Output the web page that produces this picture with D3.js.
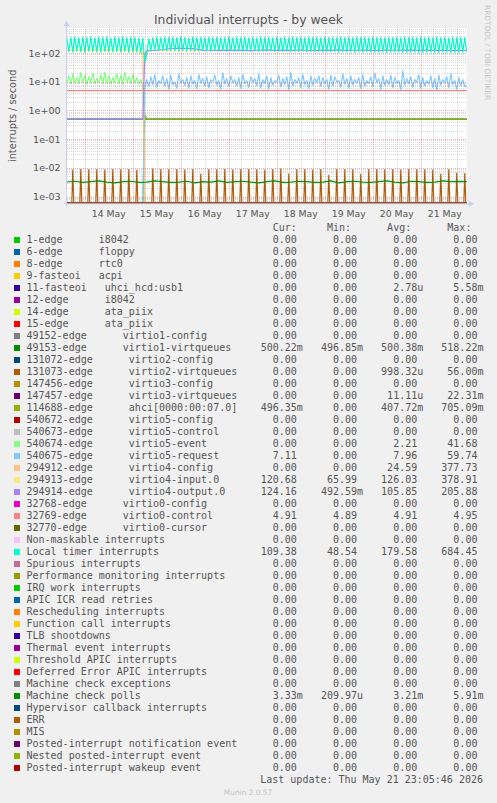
<!DOCTYPE html>
<html><head><meta charset="utf-8">
<script src="https://cdn.jsdelivr.net/npm/d3@7"></script>
<style>
html,body{margin:0;padding:0;background:#f0f0f0;}
svg{display:block;}
text{white-space:pre;}
</style></head><body>
<svg id="c" width="497" height="803"></svg>
<script>
// ================= DATA =================
const title = "Individual interrupts - by week";
const yLabel = "interrupts / second";
const watermark = "RRDTOOL / TOBI OETIKER";
const footer = "Munin 2.0.57";
const lastUpdate = "Last update: Thu May 21 23:05:46 2026";
const endTime = Date.UTC(2026, 4, 21, 23, 5, 46);
const rangeSeconds = 720000;
const sampleStart = Date.UTC(2026, 4, 13, 15, 0, 0); // hourly sample grid, index 0..200

const yTickValues = [1e-3, 1e-2, 1e-1, 1e0, 1e1, 1e2];
const yTickLabels = ["1e-03", "1e-02", "1e-01", "1e+00", "1e+01", "1e+02"];
const dayLabels = ["14 May", "15 May", "16 May", "17 May", "18 May", "19 May", "20 May", "21 May"];

const names = [
  "1-edge      i8042", "6-edge      floppy", "8-edge      rtc0", "9-fasteoi   acpi",
  "11-fasteoi   uhci_hcd:usb1", "12-edge      i8042", "14-edge      ata_piix", "15-edge      ata_piix",
  "49152-edge      virtio1-config", "49153-edge      virtio1-virtqueues",
  "131072-edge      virtio2-config", "131073-edge      virtio2-virtqueues",
  "147456-edge      virtio3-config", "147457-edge      virtio3-virtqueues",
  "114688-edge      ahci[0000:00:07.0]", "540672-edge      virtio5-config",
  "540673-edge      virtio5-control", "540674-edge      virtio5-event",
  "540675-edge      virtio5-request", "294912-edge      virtio4-config",
  "294913-edge      virtio4-input.0", "294914-edge      virtio4-output.0",
  "32768-edge      virtio0-config", "32769-edge      virtio0-control", "32770-edge      virtio0-cursor",
  "Non-maskable interrupts", "Local timer interrupts", "Spurious interrupts",
  "Performance monitoring interrupts", "IRQ work interrupts", "APIC ICR read retries",
  "Rescheduling interrupts", "Function call interrupts", "TLB shootdowns",
  "Thermal event interrupts", "Threshold APIC interrupts", "Deferred Error APIC interrupts",
  "Machine check exceptions", "Machine check polls", "Hypervisor callback interrupts",
  "ERR", "MIS", "Posted-interrupt notification event", "Nested posted-interrupt event",
  "Posted-interrupt wakeup event"
];
const colors = [
  "#00CC00", "#0066B3", "#FF8000", "#FFCC00", "#330099", "#990099", "#CCFF00", "#FF0000",
  "#808080", "#008F00", "#00487D", "#B35A00", "#B38F00", "#6B006B", "#8FB300", "#B30000",
  "#BEBEBE", "#80FF80", "#80C9FF", "#FFC080", "#FFE680", "#AA80FF", "#EE00CC", "#FF8080",
  "#666600", "#FFBFFF", "#00FFCC", "#CC6699", "#999900", "#00CC00", "#0066B3", "#FF8000",
  "#FFCC00", "#330099", "#990099", "#CCFF00", "#FF0000", "#808080", "#008F00", "#00487D",
  "#B35A00", "#B38F00", "#6B006B", "#8FB300", "#B30000"
];
const curVals = ["0.00","0.00","0.00","0.00","0.00","0.00","0.00","0.00","0.00","500.22m",
  "0.00","0.00","0.00","0.00","496.35m","0.00","0.00","0.00","7.11","0.00",
  "120.68","124.16","0.00","4.91","0.00","0.00","109.38","0.00","0.00","0.00",
  "0.00","0.00","0.00","0.00","0.00","0.00","0.00","0.00","3.33m","0.00",
  "0.00","0.00","0.00","0.00","0.00"];
const minVals = ["0.00","0.00","0.00","0.00","0.00","0.00","0.00","0.00","0.00","496.85m",
  "0.00","0.00","0.00","0.00","0.00","0.00","0.00","0.00","0.00","0.00",
  "65.99","492.59m","0.00","4.89","0.00","0.00","48.54","0.00","0.00","0.00",
  "0.00","0.00","0.00","0.00","0.00","0.00","0.00","0.00","209.97u","0.00",
  "0.00","0.00","0.00","0.00","0.00"];
const avgVals = ["0.00","0.00","0.00","0.00","2.78u","0.00","0.00","0.00","0.00","500.38m",
  "0.00","998.32u","0.00","11.11u","407.72m","0.00","0.00","2.21","7.96","24.59",
  "126.03","105.85","0.00","4.91","0.00","0.00","179.58","0.00","0.00","0.00",
  "0.00","0.00","0.00","0.00","0.00","0.00","0.00","0.00","3.21m","0.00",
  "0.00","0.00","0.00","0.00","0.00"];
const maxVals = ["0.00","0.00","0.00","0.00","5.58m","0.00","0.00","0.00","0.00","518.22m",
  "0.00","56.00m","0.00","22.31m","705.09m","0.00","0.00","41.68","59.74","377.73",
  "378.91","205.88","0.00","4.95","0.00","0.00","684.45","0.00","0.00","0.00",
  "0.00","0.00","0.00","0.00","0.00","0.00","0.00","0.00","5.91m","0.00",
  "0.00","0.00","0.00","0.00","0.00"];

// ---- plotted series (hour indexes on the sample grid) ----
const timerBefore = [345,112,350,108,372,116,340,110,366,105,352,114,381,109,343,111,361,107,356,115,
  374,110,337,108,369,113,352,109,378,112,346,106,363,111,359,108,342,104,330];
const timerReboot = [48.54];
const timerAfter = [95,318,118,352,121,364,119,348,122,371, 117,355,124,362,120,349,118,376,123,358,
  116,344,121,367,119,353,117,361,122,347, 118,372,115,356,120,365,117,350,121,359,
  114,373,118,346,116,362,120,354,113,368, 117,351,115,360,119,345,112,370,116,357,
  114,363,118,349,111,366,115,352,113,361, 117,347,110,371,114,355,112,364,116,350,
  109,368,113,353,111,362,115,346,108,369, 112,357,110,360,114,351,107,372,111,354,
  109,365,113,348,106,367,110,356,108,361, 112,352,105,370,109,355,107,363,111,349,
  104,366,108,358,106,360,110,350,103,369, 107,354,105,364,109,347,102,371,106,356,
  104,362,108,351,103,368,107,353,105,359, 109,348,104,365,106,355,103,361,108,352, 109.38];
const eventBefore = [9,16,8.5,19,9.2,14,8.8,21,9.5,17, 8.3,15,9.1,20,8.7,13,9.4,18,8.6,22,
  9.0,16,8.4,14,9.3,19,8.9,17,8.2,21, 9.6,15,8.8,18,9.1,14,8.5,12,7.5];
const requestAfter = [6,
  12,7,15,8,18,6.5,11,9,16,7,13,5.5,17,8,10,6,19,9,12,7.5,
  14,6,16,8.5,11,5.8,18,9,13,7,15,6.2,12,10,17,7.8,11,5.6,20,8.4,
  13,6.8,16,9.2,12,7.1,14,5.9,18,8.7,11,6.4,15,9.6,13,7.3,19,6.1,12,8.9,
  16,5.7,14,7.7,11,9.8,17,6.6,13,8.2,15,5.4,21,7.4,12,9.1,14,6.3,18,8.0,
  11,5.9,16,7.6,13,9.4,16,6.9,14,8.6,12,5.5,17,7.2,15,9.9,11,6.5,19,8.3,
  13,6.0,16,7.9,12,9.3,14,5.8,18,7.0,11,8.8,15,6.7,20,9.5,13,5.6,16,7.5,
  12,8.1,17,6.2,14,9.0,11,5.3,24,7.8,13,8.5,15,6.4,12,9.7,18,5.9,14,7.1,
  11,8.4,16,6.3,13,5.2,17,7.7,12,9.2,15,6.1,19,8.0,11,5.5,14,7.4,12,6.8,7.11];
const configBefore = [128,131,126,129,133,127,125,130,129,126, 128,132,127,125,129,131,128,126,127,130,
  133,128,126,129,127,131,128,125,130,127, 129,132,126,128,130,127,125,129,122];
const inputBefore = [124,126,123,127,125,122,126,124,127,123];
const inputAfter = [118,125,127,124,126,128,123,125,127,124, 126,129,125,123,127,126,124,128,125,127,
  123,126,124,128,126,125,127,123,126,124, 128,125,127,124,126,123,125,127,124,122, 120.68];
const outputBefore = [0.500, 0.500];
const outputAfter = [122,126,134,145,150,147,140,128,126,124, 128,125,127,123,126,129,124,127,125,128,
  126,123,127,125,129,124,126,128,125,123, 127,126,124,128,125,127,124,126,123,125, 124.16];
const ahciAfter = [0.500,0.500,0.500,0.500,0.500,0.500,0.500,0.500,0.496];
const virtio1Vals = [0.500,0.500,0.500,0.500,0.500,0.500,0.500,0.500,0.500,0.500,0.500];
const controlVals = [4.91,4.90,4.91,4.92,4.91,4.90,4.91,4.91,4.92,4.91,4.91];
const mcPolls = [0.0032,0.0034,0.0031,0.0033,0.0035,0.0032,0.0030,0.0033,0.0034,0.0031,
  0.0032,0.0035,0.0033,0.0031,0.0032,0.0034,0.0030,0.0033,0.0032,0.0035,
  0.0031,0.0033,0.0034,0.0032,0.0030,0.0033,0.0035,0.0031,0.0032,0.0034,
  0.0033,0.0031,0.0032,0.0035,0.0030,0.0033,0.0034,0.0032,0.0031,0.0033,
  0.0035,0.0032,0.0030,0.0034,0.0033,0.0031,0.0032,0.0035,0.0033,0.0034, 0.00333];
// virtio2-virtqueues: zero except short bursts (hour index on the grid, value)
const virtio2SpikeHours = [3,7,11,15,19,23,27,31,35, 43,47,51,55,59,63,67,71,75,79,83,87,91,95,99,
  103,107,111,115,119,123,127,131,135,139,143,147,151,155,159,163,167,171,175,179,183,187,191,195,199];
const virtio2SpikeValues = [.0085,.0088,.0086,.0087,.0085,.0088,.0086,.0087,.0084,
  .0092,.0088,.0086,.0087,.0085,.0088,.0060,.0087,.0086,.0088,.0085,.0087,.0089,.0086,.0084,
  .0087,.0092,.0062,.0086,.0088,.0085,.0087,.0055,.0088,.0086,.0087,.0060,.0088,.0089,.0086,
  .0087,.0085,.0088,.0086,.0087,.0085,.0060,.0087,.0065,.0064];
const zeroSeries = [0, 0];

// segments: {from: hour index, step: hours, values}
const seriesSegments = {
  9:  [{from: 0, step: 20, values: virtio1Vals}],
  14: [{from: 0, step: 38, values: zeroSeries}, {from: 39, step: 1, values: [0.705]}, {from: 40, step: 20, values: ahciAfter}],
  17: [{from: 0, step: 1, values: eventBefore}, {from: 39, step: 161, values: zeroSeries}],
  18: [{from: 0, step: 38, values: zeroSeries}, {from: 39, step: 1, values: requestAfter}],
  19: [{from: 0, step: 1, values: configBefore}, {from: 39, step: 161, values: zeroSeries}],
  20: [{from: 0, step: 4, values: inputBefore}, {from: 39, step: 1, values: [65.99]}, {from: 40, step: 4, values: inputAfter}],
  21: [{from: 0, step: 38, values: outputBefore}, {from: 39, step: 1, values: [90]}, {from: 40, step: 4, values: outputAfter}],
  23: [{from: 0, step: 20, values: controlVals}],
  26: [{from: 0, step: 1, values: timerBefore}, {from: 39, step: 1, values: timerReboot}, {from: 40, step: 1, values: timerAfter}],
  38: [{from: 0, step: 4, values: mcPolls}]
};
const defaultSegments = [{from: 0, step: 200, values: zeroSeries}];

// ================= LAYOUT =================
const W = 497, H = 803;
const plot = {left: 67, right: 467, top: 28.3, bottom: 203.3};
const yMin = 5.8e-4, yMax = 735;
const fontSans = "'DejaVu Sans', Verdana, sans-serif";
const fontMono = "'DejaVu Sans Mono', monospace";
const textColor = "#555";

const svg = d3.select("#c");
svg.append("rect").attr("width", W).attr("height", H).attr("fill", "#f0f0f0");

const x = d3.scaleUtc().domain([new Date(endTime - rangeSeconds * 1000), new Date(endTime)])
  .range([plot.left, plot.right]);
const y = d3.scaleLog().domain([yMin, yMax]).range([plot.bottom, plot.top]).clamp(true);
const yv = v => y(v > 0 ? v : yMin);
const hourToDate = h => new Date(sampleStart + h * 3600e3);

svg.append("rect").attr("x", plot.left).attr("y", plot.top)
  .attr("width", plot.right - plot.left).attr("height", plot.bottom - plot.top).attr("fill", "#fff");

svg.append("defs").append("clipPath").attr("id", "clip")
  .append("rect").attr("x", plot.left).attr("y", plot.top - 1)
  .attr("width", plot.right - plot.left).attr("height", plot.bottom - plot.top + 1.5);

// ---- series lines ----
const line = d3.line().x(d => x(d.t)).y(d => yv(d.v));
const gLines = svg.append("g").attr("clip-path", "url(#clip)");
names.forEach((n, i) => {
  let pts = [];
  if (i === 11) {
    // zero baseline with 30-minute-wide bursts (one rrd pixel column)
    pts.push({t: hourToDate(0), v: 0});
    virtio2SpikeHours.forEach((h, k) => {
      pts.push({t: hourToDate(h - 0.5), v: 0});
      pts.push({t: hourToDate(h), v: virtio2SpikeValues[k]});
      pts.push({t: hourToDate(h + 0.5), v: 0});
    });
    pts.push({t: hourToDate(200), v: 0});
  } else {
    const segs = seriesSegments[i] || defaultSegments;
    segs.forEach(s => s.values.forEach((v, k) => pts.push({t: hourToDate(s.from + k * s.step), v})));
  }
  gLines.append("path").attr("d", line(pts)).attr("fill", "none")
    .attr("stroke", colors[i]).attr("stroke-width", 1.2).attr("stroke-linejoin", "round");
});

// ---- grid (drawn over data, like rrdtool) ----
const gGrid = svg.append("g");
const minorGrid = "rgba(143,143,143,0.35)", majorGrid = "rgba(222,79,79,0.45)";
const t0 = x.domain()[0], t1 = x.domain()[1];
d3.utcHour.every(6).range(t0, t1).forEach(t => {
  const isDay = t.getUTCHours() === 0;
  gGrid.append("line").attr("x1", Math.round(x(t)) + 0.5).attr("x2", Math.round(x(t)) + 0.5)
    .attr("y1", plot.top).attr("y2", plot.bottom)
    .attr("stroke", isDay ? majorGrid : minorGrid).attr("stroke-dasharray", "1,1");
});
for (let d = -4; d <= 2; d++) {
  for (let m = 1; m <= 9; m++) {
    const v = m * Math.pow(10, d);
    if (v < yMin || v > yMax) continue;
    const yy = Math.round(y(v)) + 0.5;
    gGrid.append("line").attr("x1", plot.left).attr("x2", plot.right)
      .attr("y1", yy).attr("y2", yy)
      .attr("stroke", m === 1 ? majorGrid : minorGrid).attr("stroke-dasharray", "1,1");
  }
}

// ---- axes ----
const axisColor = "#c8d0f6";
svg.append("line").attr("x1", plot.left - 3).attr("x2", plot.right + 3)
  .attr("y1", plot.bottom + 0.5).attr("y2", plot.bottom + 0.5).attr("stroke", axisColor);
svg.append("line").attr("x1", plot.left - 0.5).attr("x2", plot.left - 0.5)
  .attr("y1", plot.bottom + 3).attr("y2", plot.top - 3).attr("stroke", axisColor);
svg.append("path").attr("d", `M${plot.right + 2},${plot.bottom - 2.5}L${plot.right + 7},${plot.bottom + 0.5}L${plot.right + 2},${plot.bottom + 3.5}Z`).attr("fill", axisColor);
svg.append("path").attr("d", `M${plot.left - 3.5},${plot.top - 2}L${plot.left - 0.5},${plot.top - 7.5}L${plot.left + 2.5},${plot.top - 2}Z`).attr("fill", axisColor);

// y tick labels
yTickValues.forEach((v, i) => {
  svg.append("text").attr("x", 60.5).attr("y", y(v) + 3.5).attr("text-anchor", "end")
    .attr("font-family", fontSans).attr("font-size", 9.5).attr("fill", textColor).text(yTickLabels[i]);
});
// x tick labels (centred at noon)
const parseDay = d3.utcParse("%d %b %Y");
dayLabels.forEach(lbl => {
  const t = new Date(parseDay(lbl + " 2026").getTime() + 12 * 3600e3);
  svg.append("text").attr("x", x(t)).attr("y", 216.5).attr("text-anchor", "middle")
    .attr("font-family", fontSans).attr("font-size", 9.3).attr("fill", textColor).text(lbl);
});

// title
svg.append("text").attr("x", 248.5).attr("y", 23.5).attr("text-anchor", "middle")
  .attr("font-family", fontSans).attr("font-size", 12.4).attr("fill", textColor).text(title);
// y label
svg.append("text").attr("transform", `translate(15.5,${(plot.top + plot.bottom) / 2}) rotate(-90)`)
  .attr("text-anchor", "middle").attr("font-family", fontSans).attr("font-size", 9.8)
  .attr("fill", textColor).text(yLabel);
// watermark
svg.append("text").attr("transform", "translate(485,5) rotate(90)")
  .attr("font-family", fontSans).attr("font-size", 7.4).attr("fill", "#c4c4c4").text(watermark);

// ---- legend ----
const fmt = s => {
  const last = s[s.length - 1];
  const hasSuf = /[a-z]/i.test(last);
  const num = hasSuf ? s.slice(0, -1) : s;
  return num.padStart(6) + (hasSuf ? last : " ");
};
const legTop = 243, legStep = 12, valX = 260.7;
svg.append("text").attr("x", valX).attr("y", legTop - legStep).attr("xml:space", "preserve")
  .attr("font-family", fontMono).attr("font-size", 10).attr("fill", textColor)
  .text("  Cur:" + "     " + "Min:" + "      " + "Avg:" + "      " + "Max:");
names.forEach((n, i) => {
  const by = legTop + legStep * i;
  svg.append("rect").attr("x", 14).attr("y", by - 6).attr("width", 6).attr("height", 6).attr("fill", colors[i]);
  svg.append("text").attr("x", 26.5).attr("y", by).attr("xml:space", "preserve")
    .attr("font-family", fontMono).attr("font-size", 10).attr("fill", textColor).text(n);
  svg.append("text").attr("x", valX).attr("y", by).attr("xml:space", "preserve")
    .attr("font-family", fontMono).attr("font-size", 10).attr("fill", textColor)
    .text([curVals[i], minVals[i], avgVals[i], maxVals[i]].map(fmt).join("   "));
});
svg.append("text").attr("x", 483).attr("y", legTop + legStep * names.length).attr("text-anchor", "end")
  .attr("xml:space", "preserve").attr("font-family", fontMono).attr("font-size", 10)
  .attr("fill", textColor).text(lastUpdate);
svg.append("text").attr("x", 248).attr("y", 795).attr("text-anchor", "middle")
  .attr("font-family", fontSans).attr("font-size", 7.4).attr("fill", "#c4c4c4").text(footer);
</script>
</body></html>
